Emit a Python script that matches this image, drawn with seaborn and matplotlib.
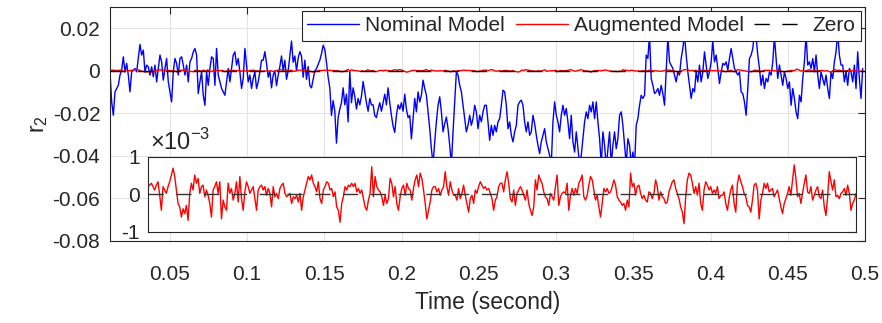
import numpy as np
import pandas as pd
import matplotlib
matplotlib.use("Agg")
import matplotlib.pyplot as plt
import seaborn as sns

# ---------------- data ----------------
T_START, T_END = 0.0113, 0.4985

# Nominal model residual r2, units of 1e-3, sampled uniformly in time
nominal_a = [-0.5, -14.6, -20.9, -9.9, -8.3, -6.8, -2, 0.3, 6.6, -0.5,
             3.5, -2, -9.9, -0.5, 0.3, 1.1, -0.5, 5.8, 12.4, 7.4,
             9.7, -0.5, 2.7, 1.9, -2, 1.9, -2.8, 2.7, -5.2, 1.1,
             7.4, 4.2, -4.4, 1.1, 5.8, -5.2, -9.9, -14.6, -0.5, 5.8,
             3.5, -2, 5.8, 6.6, 2.7, -2, 2.7, -5.2, 4.2, 5.8,
             8.9, 10.5, 7.4, -10.7, -5.2, -0.5, -11.5, -16.2, -0.5, -6.8,
             1.1, 6.6, 5.8, -6.8, 10.5, -2, -5.2, -8.3, -9.9, -11.5,
             -5.2, 1.1, -5.2, 1.1, 7.4, 8.9, 2.7, 5.8, -0.5, -8.3,
             -3.6, 10.5, 2.7, -5.2, -2, -8.3, -3.6, -0.5, -8.3, -5.2,
             -0.5, 5]
nominal_b = [5, 9, 3.5, -3, 0, -8, -2, 0, -7, -2,
             2, 7, 0, 5, -4, 0, 7, 14, 4, 7,
             0, 6, 9, 7, -3, 5, -4, 2, -7, -8,
             -4, 0, 1, 3, 5, 8, 12, 10, 4, -3,
             -8, -21, -14, -19, -34, -22, -18, -15, -8, -16,
             -11, -24, 0, -15, -8, -12, -18, -13, -16, -12,
             -5, -10, -15, -19, -13, -16, -16, -21, -22, -18,
             -15, -19, -15, -11, -16, -8, -15, -21, -26, -29,
             -21, -16, -18, -15, -19, -11, -18, -22, -21, -32]
nominal_c = [-22.5, -13, -19.3, -9.9, -14.6, -11.5, -4.4, -8.3, -11.5, -19.3,
             -27.2, -36.6, -44, -33.4, -24, -16.2, -12.2, -19.3, -28.7, -24.8,
             -21.7, -27.2, -35, -44, -28.7, -14.6, -0.5, -2, -6.8, -9.9,
             -16.2, -22.5, -28.7, -25.6, -20.9, -25.6, -22.5, -16.2, -19.3, -27.2,
             -20.9, -24, -19.3, -16.2, -16.2, -24, -32.7, -25.6, -30.3, -25.6,
             -28.7, -24, -22.5, -16.2, -9.1, -9.9, -16.2, -27.2, -24, -30.3,
             -33.4, -28.7, -25.6, -16.2, -14.6, -13.8, -16.2, -24, -28.7, -24,
             -30.3, -28.7, -20.9, -24.8, -30.3, -35, -38.9, -33.4, -30.3, -27.2,
             -33.4, -36.6, -39.7, -44, -24, -14.6, -20.9, -24, -28.7, -20.9]
nominal_d = [-16.2, -20.9, -17.7, -24, -31.9, -20.9, -33.4, -38.2, -28.7, -36.6,
             -44, -39.7, -31.9, -24, -19.3, -22.5, -16.2, -19.3, -14.6, -22.5,
             -14.6, -24, -31.9, -44, -28.7, -35, -45, -36.6, -28.7, -44,
             -35, -28.7, -36.6, -31.9, -20.9, -19.3, -25.6, -35, -44, -31.9,
             -35, -44, -38.2, -45, -25.6, -22.5, -16.2, -11.5, -13, -11.5,
             7.4, 5.8, 17, -3.6, -6.8, -10.7, -9.9, -8.3, -11.5, -6.8,
             -10.7, -16.2, -0.5, 16, 4.2, 2.7, 1.1, -2, -5.2, -0.5,
             -2, 5.8, 10.5, 17, 7.4, -0.5, -6.8, -13, -8.3, -9.9,
             -0.5, -5.2, 2.7, -5.2, -0.5, 8.9, 2.7, -3.6, -0.5, 4.2]
nominal_e = [14, 4.2, 7.4, 1.1, -6, -0.5, 3.5, 2.7, 4.2, 0.3,
             5.8, 10.5, 5.8, 1.1, -0.5, -2, -0.5, -9.9, -10.7, -14.6,
             -20.9, -8.3, 5.8, 7.4, 10.5, 18, 16, 7.4, 1.1, -6.8,
             -2, -8.3, -3.6, -5.2, -0.5, -2, 4.2, 16, 5.8, -3.6,
             2.7, -2, -6.8, -0.5, -3.6, -8.3, -5.2, -16.2, -8.3, -13,
             -19.3, -22.5, -11.5, -14.6, -3.6, 4.2, 17, 2.7, 4.2, 1.1,
             5.8, -0.5, 7.4, -2, -8.3, -0.5, -3.6, -6.8, -2, -8.3,
             -13, -0.5, -3.6, 4.2, 8.9, 18, 7.4, 2.7, 2.7, -5.2,
             -0.5, -6.8, 1.1, -0.5, -5.2, 2.7, -8.3, 8.9, -3.6, -13,
             1.1]

# Augmented model residual r2, units of 1e-3
augmented_a = [0.21, 0.25, 0.30, 0.21, 0.12, 0.25, 0.34, -0.02, -0.42, 0.21,
               0.12, 0.03, 0.21, 0.34, 0.52, 0.70, 0.48, 0.12, -0.24, -0.33,
               -0.60, -0.38, -0.51, -0.29, -0.69, 0.03, 0.30, 0.12, 0.52, 0.30,
               0.43, 0.03, 0.21, 0.25, -0.06, 0.12, -0.02, -0.24, -0.60, 0.12,
               0.21, 0.34, 0.03, 0.34, -0.65, -0.15, -0.33, -0.42, 0.30, 0.03,
               0.16, -0.15, 0.03, 0.34, -0.20, 0.48, -0.11, -0.42, 0.07, 0.34,
               0.21, 0.03, 0.12, 0.21, -0.11, -0.42, 0.12, 0.21, 0.25, 0.12,
               0.21, -0.02, 0.16, 0.03, -0.33, 0.21, -0.06, 0.03, -0.11, 0.16,
               0.25, 0.30, 0.03, -0.06, -0.02, 0.03, -0.24, -0.06, -0.11, -0.02,
               -0.20, 0.03, -0.42, -0.06, 0.12, 0.30, 0.48, 0.39, 0.52, 0.30,
               0.21, 0.07, 0.34, -0.11, -0.24, 0.12, 0.21, 0.34, 0.30, 0.12,
               0.16, -0.06, 0.07, -0.33, -0.42, -0.74, -0.24, -0.06, 0.21, 0.12,
               0.25, 0.21, 0.30, 0.21, 0.30, 0.07, 0.16, 0.03, 0.12, -0.11,
               -0.33, -0.42, -0.15, 0.03, 0.74, -0.06, 0.48, 0.21, 0.12, 0.07,
               -0.06, -0.29, -0.02, -0.24, -0.11, 0.43, 0.30, -0.06, 0.21, -0.24,
               -0.42, -0.06, 0.16, 0.25, -0.02, 0.30, 0.16, 0.12, -0.15, 0.16,
               0.39, 0.52, 0.21, 0.57, 0.43, 0.12, -0.24, -0.65, -0.42, -0.20,
               0.12, 0.21, 0.21, 0.07, 0.16, -0.02, 0.12, 0.21, 0.61, 0.21,
               -0.02, 0.34, 0.12, -0.02, -0.02, -0.15, 0.16, -0.11, 0.03, 0.25,
               -0.02, -0.24, -0.47, -0.11, -0.02, -0.24, 0.12, 0.03, 0.21, 0.34,
               0.25, 0.16, 0.21, 0.12, 0.16, 0.03, -0.11, -0.42, -0.15, -0.06,
               0.21, 0.30]
augmented_b = [0.30, 0.07, 0.39, 0.61, 0.30, -0.11, -0.20, 0.12, -0.29, 0.03,
               0.12, 0.21, 0.12, -0.02, -0.15, 0.12, -0.24, -0.42, -0.56, -0.33,
               0.39, 0.12, 0.52, 0.39, 0.30, 0.07, -0.06, -0.11, -0.29, 0.03,
               -0.06, -0.15, 0.21, 0.52, -0.29, -0.06, 0.03, 0.07, 0.03, 0.30,
               -0.42, -0.02, 0.16, -0.02, 0.16, 0.03, 0.30, 0.39, 0.52, -0.06,
               -0.15, -0.02, 0.25, 0.48, 0.39, 0.12, -0.15, -0.02, -0.33, -0.60,
               -0.24, 0.16, 0.07, 0.16, 0.03, 0.07, 0.21, 0.39, 0.25, -0.06,
               -0.15, -0.20, -0.29, -0.24, -0.42, -0.15, -0.33, 0.57, 0.21, 0.30,
               -0.02, 0.21, 0.25, 0.03, -0.11, -0.02, -0.15, -0.20, 0.07, 0.03,
               -0.11, 0.03, 0.39, 0.21, -0.15, 0.07, -0.06, -0.11, -0.24, -0.20,
               0.07, 0.21, 0.34, 0.39, 0.16, 0.03, -0.11, -0.33, -0.47, -0.78,
               -0.06, 0.39, 0.57, 0.52, 0.30, 0.03, 0.21, -0.02, 0.30, -0.24,
               -0.42, 0.12, 0.34, 0.25, 0.12, 0.21, 0.03, 0.12, 0.03, 0.21,
               -0.11, -0.02, -0.02, 0.07, -0.24, -0.42, -0.11, 0.12, 0.25, -0.24,
               -0.47, 0.30, 0.52, 0.34, 0.21, 0.03, -0.06, -0.29, -0.33, -0.47,
               -0.15, 0.25, 0.30, 0.12, -0.65, -0.15, 0.03, 0.30, 0.16, 0.30,
               0.07, 0.12, 0.16, -0.06, 0.03, 0.12, -0.11, -0.33, -0.51, -0.24,
               -0.11, 0.03, 0.21, -0.02, 0.39, 0.79, 0.43, -0.06, 0.03, -0.24,
               0.03, 0.30, 0.52, 0.07, 0.03, 0.21, -0.15, -0.02, 0.12, 0.21,
               -0.06, -0.11, 0.12, -0.33, -0.56, -0.06, 0.61, 0.34, 0.12, 0.39,
               -0.06, -0.02, -0.11, 0.03, 0.07, 0.16, -0.02, 0.25, 0.03, -0.42,
               -0.24, -0.15, 0.03]

x_ticks = [0.05, 0.1, 0.15, 0.2, 0.25, 0.3, 0.35, 0.4, 0.45, 0.5]
x_ticklabels = ["0.05", "0.1", "0.15", "0.2", "0.25", "0.3", "0.35", "0.4", "0.45", "0.5"]
y_ticks = [-0.08, -0.06, -0.04, -0.02, 0.0, 0.02]
y_ticklabels = ["-0.08", "-0.06", "-0.04", "-0.02", "0", "0.02"]
inset_ticks = [-1, 0, 1]
inset_ticklabels = ["-1", "0", "1"]
series_names = ["Nominal Model", "Augmented Model", "Zero"]

# ---------------- build tables ----------------
nominal_milli = np.array(nominal_a + nominal_b + nominal_c + nominal_d + nominal_e)
augmented_milli = np.array(augmented_a + augmented_b)
t_nom = np.linspace(T_START, T_END, len(nominal_milli))
t_aug = np.linspace(T_START, T_END, len(augmented_milli))
df_nom = pd.DataFrame({"t": t_nom, "r2": nominal_milli * 1e-3})
df_aug = pd.DataFrame({"t": t_aug, "r2": augmented_milli * 1e-3, "r2m": augmented_milli})
df_zero = pd.DataFrame({"t": [T_START, 0.5], "r2": [0.0, 0.0]})

# ---------------- style ----------------
sns.set_style("white")
plt.rcParams["font.family"] = ["Liberation Sans", "DejaVu Sans"]
plt.rcParams["axes.unicode_minus"] = False

BLUE, RED = "#0000ff", "#ff0000"
FS = 15
DASH = (0, (11, 9))
TXT = "#262626"

fig = plt.figure(figsize=(8.82, 3.23), dpi=100)
ax = fig.add_axes([110 / 882, 1 - 241 / 323, 755 / 882, 234 / 323])

sns.lineplot(data=df_nom, x="t", y="r2", ax=ax, color=BLUE, lw=1.0,
             estimator=None, label=series_names[0])
sns.lineplot(data=df_aug, x="t", y="r2", ax=ax, color=RED, lw=1.0,
             estimator=None, label=series_names[1])
sns.lineplot(data=df_zero, x="t", y="r2", ax=ax, color="black", lw=1.0,
             estimator=None, label=series_names[2], linestyle=DASH)

ax.set_xlim(T_START, 0.5)
ax.set_ylim(-0.08, 0.03)
ax.set_xticks(x_ticks)
ax.set_xticklabels(x_ticklabels)
ax.set_yticks(y_ticks)
ax.set_yticklabels(y_ticklabels)
ax.grid(True, color="#e3e3e3", lw=0.8)
ax.tick_params(direction="in", top=True, right=True, length=5, width=0.8,
               labelsize=FS, colors=TXT)
ax.tick_params(axis="x", pad=17)
ax.tick_params(axis="y", pad=7)
for s in ax.spines.values():
    s.set_color(TXT)
    s.set_linewidth(0.8)
ax.set_xlabel("Time (second)", fontsize=16.5, color=TXT, labelpad=5)
ax.set_ylabel("r$_\\mathregular{2}$", fontsize=16.5, color=TXT, labelpad=2)

leg = ax.legend(loc="upper right", ncol=3, fontsize=FS, frameon=True,
                fancybox=False, edgecolor=TXT, framealpha=1,
                handlelength=2.5, handletextpad=0.3, columnspacing=0.5,
                borderpad=0.25, borderaxespad=0.2)
leg.get_frame().set_linewidth(0.8)
leg.set_zorder(10)

# ---------------- inset ----------------
ins = fig.add_axes([148 / 882, 1 - 232 / 323, 708 / 882, 75 / 323])
ins.set_facecolor("white")
sns.lineplot(data=df_aug, x="t", y="r2m", ax=ins, color=RED, lw=1.0, estimator=None)
sns.lineplot(data=df_zero, x="t", y="r2", ax=ins, color="#333333", lw=1.0,
             estimator=None, linestyle=DASH)
ins.set_xlim(T_START, T_END)
ins.set_ylim(-1, 1)
ins.set_xticks([])
ins.set_yticks(inset_ticks)
ins.set_yticklabels(inset_ticklabels)
ins.set_xlabel("")
ins.set_ylabel("")
ins.tick_params(direction="in", right=True, length=5, width=0.8,
                labelsize=FS, colors=TXT, pad=6)
for s in ins.spines.values():
    s.set_color(TXT)
    s.set_linewidth(0.8)
ins.text(0.003, 1.03, "×10$^{\\mathregular{-3}}$", transform=ins.transAxes,
         fontsize=17, color=TXT, ha="left", va="bottom")

fig.savefig("out.png", dpi=100)
